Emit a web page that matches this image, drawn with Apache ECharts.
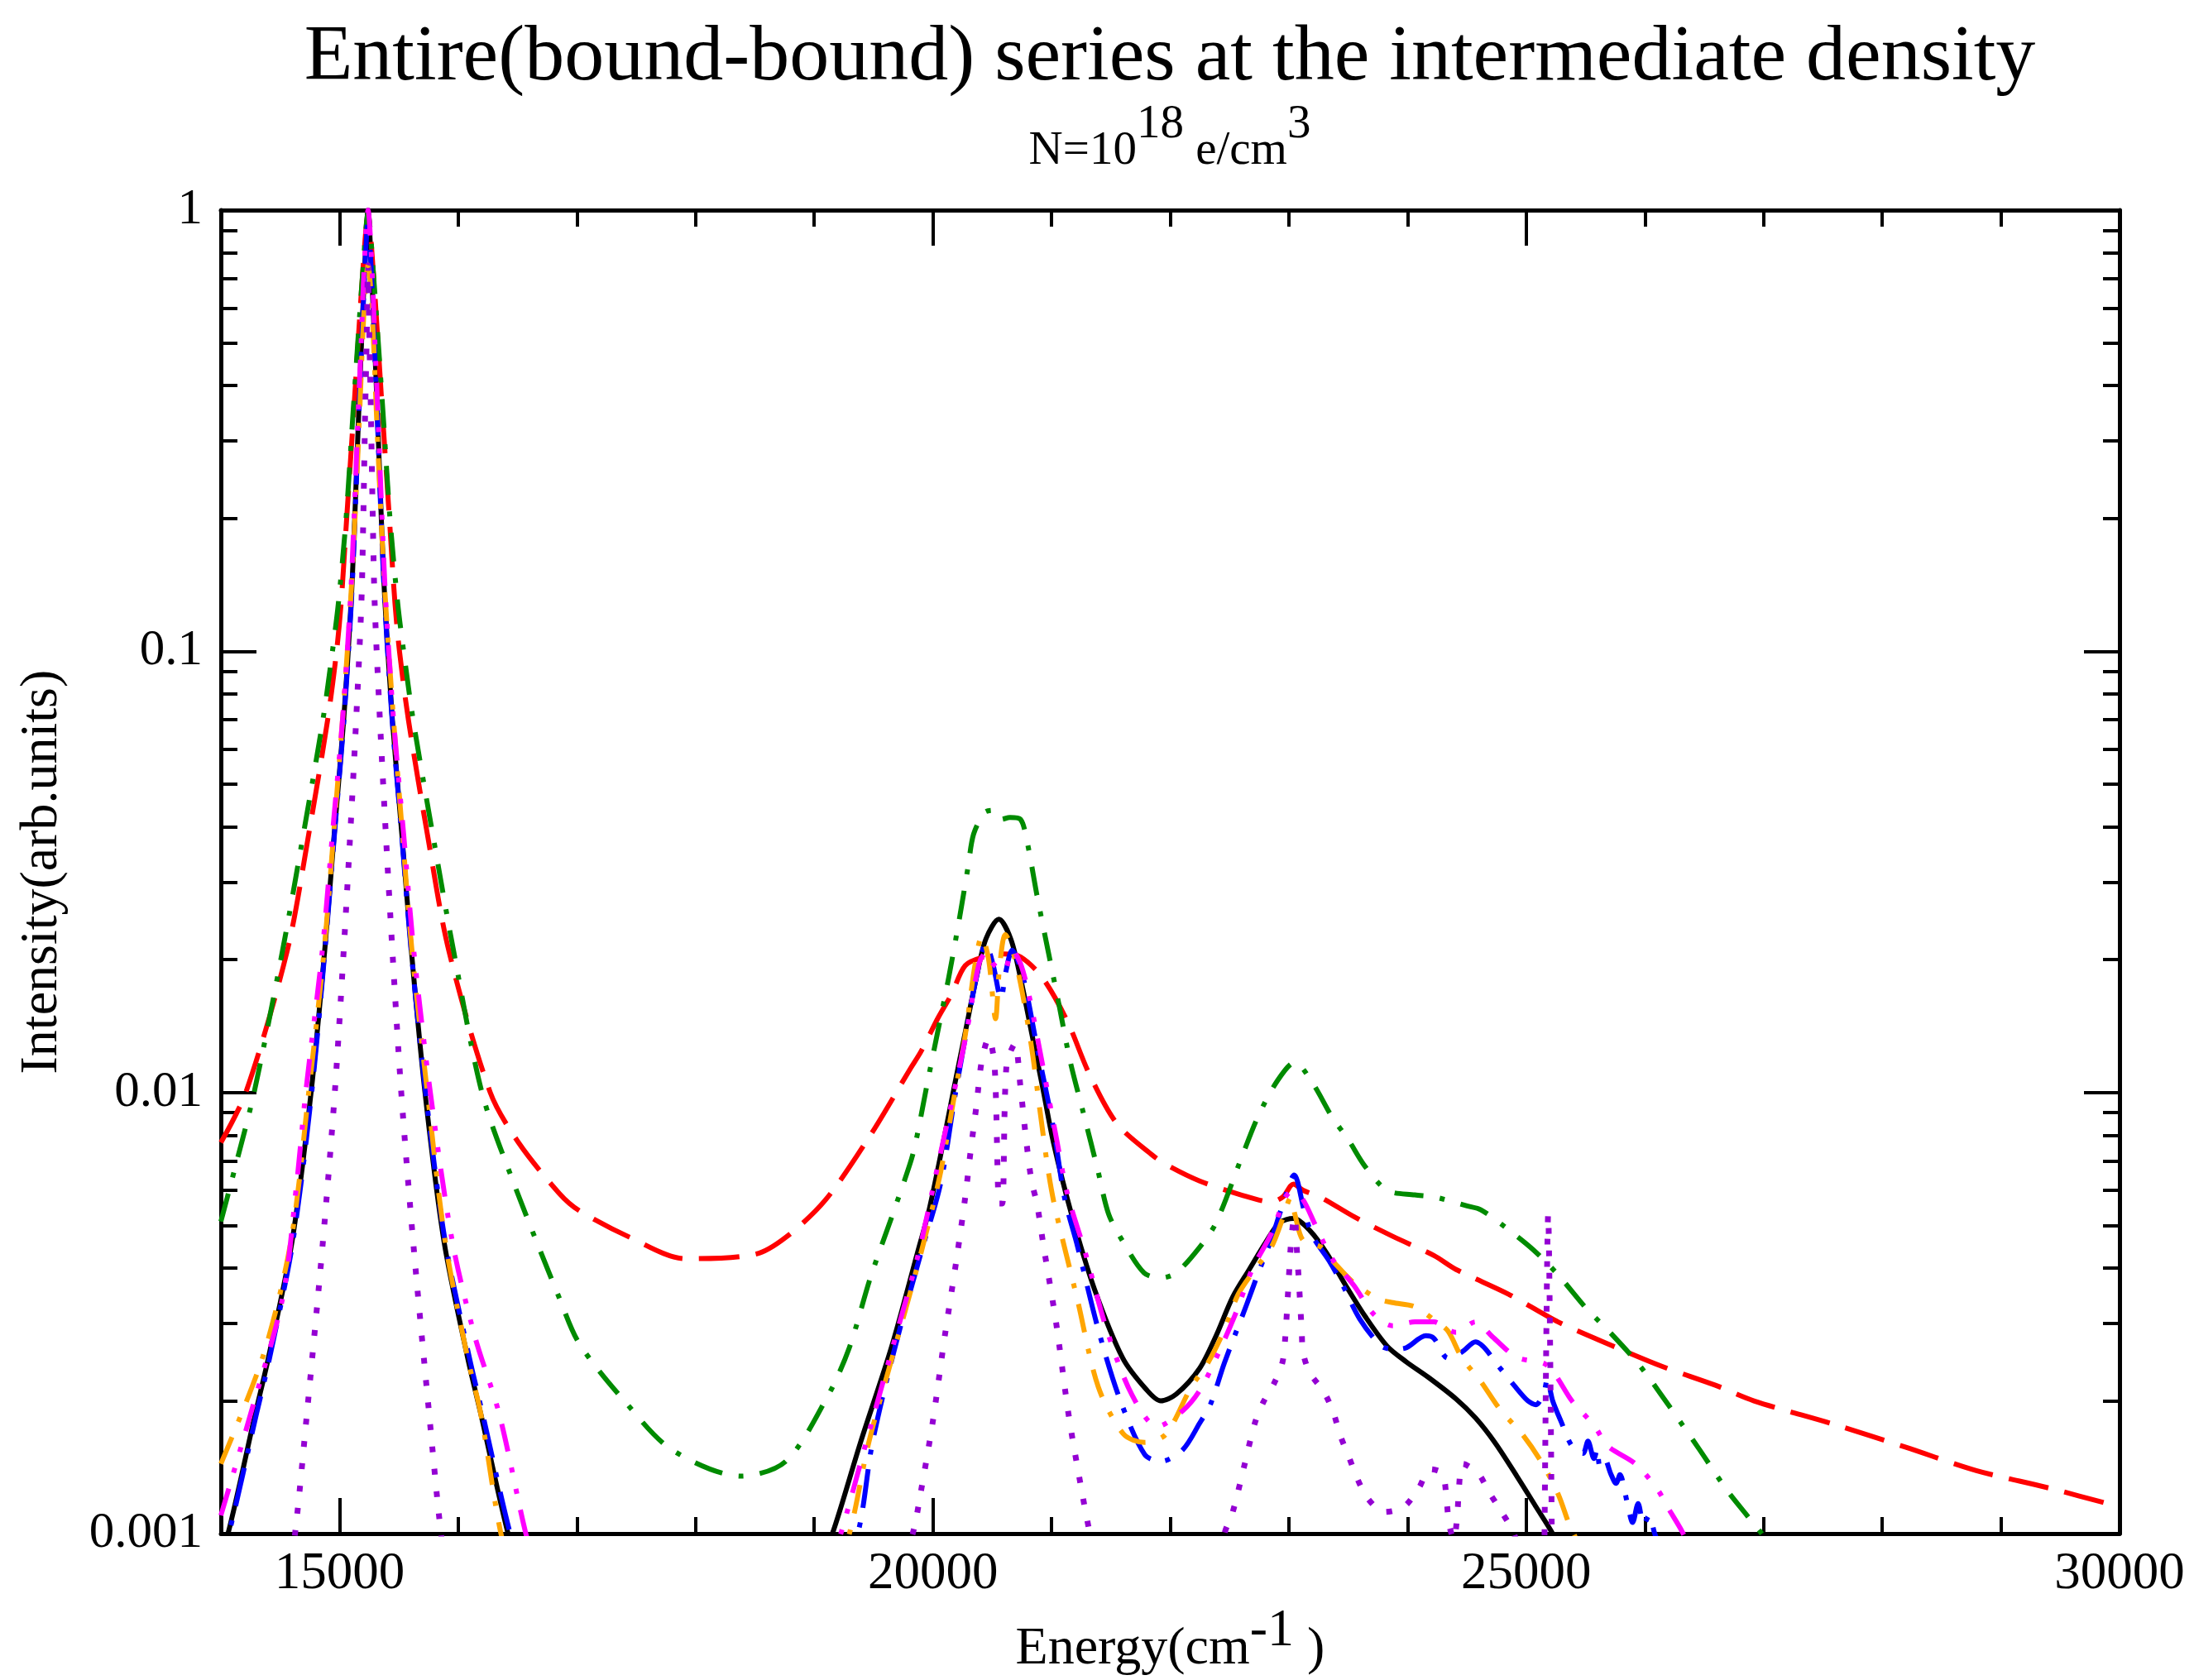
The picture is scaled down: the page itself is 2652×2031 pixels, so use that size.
<!DOCTYPE html>
<html><head><meta charset="utf-8">
<script src="https://cdn.jsdelivr.net/npm/echarts@6/dist/echarts.min.js"></script>
<style>html,body{margin:0;padding:0;background:#fff}#c{width:2652px;height:2031px}</style>
</head><body><div id="c"></div>
<script>
// ---- tick values / labels ----
const xMajorTicks = [15000, 20000, 25000, 30000];
const xMinorTicks = [16000, 17000, 18000, 19000, 21000, 22000, 23000, 24000, 26000, 27000, 28000, 29000];
const yTickLabels = ['0.001', '0.01', '0.1', '1'];
const yMinorTicks = [0.002,0.003,0.004,0.005,0.006,0.007,0.008,0.009,
                     0.02,0.03,0.04,0.05,0.06,0.07,0.08,0.09,
                     0.2,0.3,0.4,0.5,0.6,0.7,0.8,0.9];

// ---- series data (null = gap, curve below 0.001) ----
const blackX = [13940,14060,14290,14400,14600,14760,14875,14955,15035,15097,15128,15162,15185,15210,15240,15270,15295,15318,15352,15383,15445,15525,15605,15720,15880,16080,16190,16420,16540,17800,
  19000,19153,19390,19650,19870,19971,20087,20180,20273,20366,20447,20556,20656,20738,20831,20924,21016,21168,21359,21600,21800,21920,22050,22248,22387,22527,22666,22806,22922,23038,23178,23317,23480,23642,23828,23991,24177,24409,24572,24735,24921,25083,25223,25350];
const blackY = [0.0008,0.001,0.00187,0.0025,0.0046,0.01,0.021,0.0385,0.07,0.1285,0.2,0.351,0.5,0.72,1.0,0.72,0.5,0.351,0.2,0.1285,0.07,0.0385,0.021,0.01,0.0046,0.0025,0.00187,0.001,0.0008,null,
  0.0008,0.001,0.00161,0.00264,0.00433,0.00546,0.0077,0.0103,0.0137,0.0182,0.0223,0.0247,0.0223,0.0182,0.0137,0.0103,0.0077,0.0053,0.0036,0.0025,0.00212,0.002,0.00207,0.00237,0.00281,0.00344,0.00397,0.00458,0.00507,0.00518,0.00486,0.00433,0.00365,0.00311,0.00266,0.00245,0.00226,0.00202,0.00183,0.00161,0.00135,0.00115,0.001,0.00085];

const redX = [14000,14210,14560,14740,14900,14975,15013,15060,15120,15195,15240,15285,15360,15420,15467,15505,15580,15740,15920,16270,16508,16853,17019,17443,17914,18504,18762,19093,19473,19808,19901,20040,20157,20273,20435,20600,20738,20924,21133,21319,21551,21853,21993,22248,22597,22852,22950,23038,23120,23271,23549,23875,24223,24409,24851,25269,25734,26152,26594,26919,27593,28200,28793,29400,30000];
const redY = [0.0077,0.01,0.021,0.0385,0.07,0.1,0.1285,0.2,0.351,0.72,0.97,0.72,0.351,0.2,0.1285,0.1,0.07,0.0385,0.021,0.01,0.0077,0.0059,0.0054,0.0047,0.0042,0.0043,0.0047,0.0057,0.008,0.0113,0.0124,0.0147,0.0167,0.0194,0.0203,0.0206,0.0203,0.0182,0.0145,0.011,0.0085,0.0072,0.0068,0.0063,0.00586,0.00565,0.0058,0.0062,0.006,0.00578,0.00523,0.00472,0.00427,0.00397,0.00349,0.00302,0.00266,0.00239,0.00217,0.002,0.00177,0.00157,0.00139,0.00127,0.00115];

const greenX = [14000,14116,14280,14520,14695,14860,14940,14990,15055,15115,15195,15240,15285,15365,15425,15490,15540,15620,15785,15960,16200,16461,16856,17019,17400,17800,18386,18762,19118,19296,19473,19651,19808,19855,19947,20040,20133,20226,20296,20343,20435,20505,20575,20650,20738,20796,20877,20970,21063,21156,21272,21388,21481,21600,21780,21920,22050,22248,22387,22597,22736,22900,23050,23200,23364,23503,23642,23828,24061,24223,24502,24618,24828,25060,25269,25502,25711,25943,26129,26454,26687,26861,26985,27100];
const greenY = [0.0051,0.0067,0.01,0.021,0.0385,0.07,0.1,0.1285,0.2,0.351,0.72,0.98,0.72,0.351,0.2,0.1285,0.1,0.07,0.0385,0.021,0.01,0.0063,0.0034,0.0027,0.002,0.00155,0.00135,0.00146,0.00206,0.00264,0.0038,0.0052,0.0069,0.0077,0.0103,0.0137,0.0182,0.025,0.0324,0.0385,0.0431,0.0436,0.0416,0.042,0.0416,0.0368,0.028,0.021,0.0158,0.0118,0.0089,0.0067,0.0053,0.0046,0.0039,0.0038,0.0039,0.00446,0.00507,0.00707,0.00877,0.0106,0.0117,0.0105,0.0088,0.0078,0.0068,0.006,0.00586,0.0058,0.00553,0.00542,0.00494,0.0044,0.00386,0.00325,0.00285,0.00243,0.00208,0.00156,0.00126,0.0011,0.001,0.0009];

const blueX = [13950,14067,14300,14410,14607,14765,14877,14957,15037,15099,15130,15164,15187,15212,15240,15268,15293,15316,15350,15381,15443,15523,15603,15725,15890,16095,16205,16438,16560,17800,
  19200,19367,19491,19680,19900,20064,20180,20273,20366,20447,20505,20575,20610,20668,20761,20877,21016,21109,21217,21394,21572,21786,21928,22106,22248,22341,22457,22643,22736,22852,22945,23045,23131,23201,23340,23456,23596,23782,23900,23991,24154,24223,24340,24456,24572,24781,24897,25014,25083,25153,25176,25223,25292,25385,25478,25520,25571,25600,25618,25660,25711,25757,25790,25850,25897,25943,25990,26036,26083,26150];
const blueY = [0.0008,0.001,0.00187,0.0025,0.0046,0.01,0.021,0.0385,0.07,0.1285,0.2,0.351,0.5,0.72,0.95,0.72,0.5,0.351,0.2,0.1285,0.07,0.0385,0.021,0.01,0.0046,0.0025,0.00187,0.001,0.0008,null,
  0.0008,0.001,0.00161,0.00264,0.00433,0.0062,0.0096,0.0133,0.0182,0.0217,0.0196,0.0163,0.0185,0.021,0.0182,0.0127,0.0083,0.00578,0.0045,0.0029,0.00203,0.00151,0.00146,0.00155,0.00178,0.00197,0.00244,0.0033,0.00386,0.00465,0.00553,0.0065,0.00537,0.00472,0.00415,0.00365,0.00307,0.00266,0.00262,0.00264,0.00281,0.00277,0.0025,0.00258,0.00272,0.00237,0.00217,0.002,0.00196,0.00211,0.00224,0.002,0.0018,0.00158,0.00152,0.00162,0.00148,0.00156,0.00143,0.00148,0.00137,0.0013,0.00136,0.00118,0.00106,0.00117,0.00105,0.0011,0.001,0.0009];

const orangeX = [14000,14356,14590,14740,14870,14950,15025,15092,15130,15170,15207,15240,15273,15310,15350,15388,15455,15530,15610,15740,15890,16080,16190,16360,16480,17800,
  19150,19296,19460,19680,19900,20060,20180,20273,20354,20412,20470,20528,20560,20610,20660,20738,20831,20900,20970,21028,21217,21394,21608,21786,21963,22177,22318,22457,22573,22713,22852,22945,23015,23050,23120,23271,23387,23549,23759,23875,24061,24224,24340,24456,24619,24781,24967,25130,25269,25362,25400,25480];
const orangeY = [0.00144,0.00253,0.0046,0.01,0.021,0.0385,0.07,0.1285,0.2,0.351,0.6,0.75,0.6,0.351,0.2,0.1285,0.07,0.0385,0.021,0.01,0.0046,0.0025,0.00187,0.001,0.0008,null,
  0.0008,0.001,0.00161,0.00264,0.00433,0.0065,0.0098,0.0135,0.0194,0.0226,0.02,0.0147,0.019,0.0228,0.0215,0.0177,0.0127,0.0092,0.0067,0.0055,0.0034,0.00215,0.00168,0.00161,0.00168,0.00215,0.00244,0.0029,0.00349,0.00397,0.00446,0.00515,0.00577,0.0053,0.00462,0.00446,0.0041,0.0037,0.0034,0.00334,0.00327,0.00305,0.00288,0.00251,0.00221,0.00191,0.00168,0.00145,0.00123,0.00105,0.001,0.0009];

const magentaX = [14000,14251,14520,14640,14715,14855,14940,15025,15090,15122,15158,15182,15205,15240,15275,15298,15322,15358,15390,15455,15540,15625,15765,15950,16140,16345,16570,16680,17800,
  19100,19224,19438,19660,19880,20040,20170,20280,20389,20452,20505,20598,20668,20738,20808,20900,21040,21133,21288,21465,21679,21892,22106,22248,22387,22550,22690,22852,22968,23015,23108,23224,23364,23549,23712,23875,24061,24224,24340,24409,24572,24712,24921,25153,25246,25385,25571,25688,25920,26106,26199,26315,26400];
const magentaY = [0.0011,0.00187,0.00342,0.00627,0.01,0.021,0.0385,0.07,0.1285,0.2,0.351,0.5,0.72,1.0,0.72,0.5,0.351,0.2,0.1285,0.07,0.0385,0.021,0.01,0.0046,0.0028,0.00187,0.001,0.0008,null,
  0.0008,0.001,0.00161,0.00264,0.00433,0.0068,0.0098,0.0135,0.0196,0.0208,0.0196,0.0188,0.021,0.0196,0.0167,0.0125,0.0079,0.0059,0.0043,0.0029,0.00206,0.00175,0.0019,0.00211,0.0025,0.00315,0.00397,0.00479,0.00577,0.00594,0.00577,0.005,0.0042,0.00365,0.00315,0.00296,0.00302,0.00302,0.0029,0.00286,0.00302,0.0028,0.00251,0.00243,0.00229,0.002,0.00176,0.00158,0.00144,0.00126,0.00114,0.00101,0.0009];

const violetX = [14540,14625,14725,14860,14960,15035,15090,15140,15184,15200,15216,15228,15240,15252,15264,15280,15296,15340,15390,15445,15520,15620,15755,15855,15940,17800,
  19700,19830,19900,20000,20100,20200,20273,20319,20366,20412,20470,20520,20560,20585,20620,20691,20738,20784,20831,20877,20932,21039,21145,21252,21323,21400,21900,
  22400,22457,22527,22620,22713,22782,22875,22945,22968,22992,23015,23035,23050,23065,23085,23108,23120,23178,23294,23375,23433,23503,23573,23666,23805,23968,24096,24189,24293,24328,24350,24390,24421,24433,24468,24595,24688,24793,24897,25000,25080,
  25150,25185,25220];
const violetY = [0.0007,0.001,0.00187,0.0046,0.01,0.021,0.0385,0.07,0.1285,0.2,0.351,0.5,0.75,0.5,0.351,0.2,0.1285,0.07,0.0385,0.021,0.01,0.0046,0.00187,0.001,0.0007,null,
  0.0008,0.001,0.00125,0.0018,0.0028,0.0042,0.0058,0.0074,0.0093,0.0118,0.0133,0.0115,0.0056,0.0056,0.0115,0.0129,0.0103,0.0079,0.0063,0.0056,0.0045,0.003,0.00185,0.00126,0.001,0.0008,null,
  0.0008,0.001,0.00112,0.00141,0.00178,0.00198,0.00219,0.00244,0.00275,0.00349,0.00446,0.00505,0.00523,0.0045,0.0037,0.00289,0.00257,0.00231,0.0021,0.00188,0.00167,0.0015,0.00134,0.0012,0.00112,0.00115,0.00127,0.0014,0.00137,0.0012,0.00105,0.00097,0.00112,0.00127,0.00144,0.00137,0.00124,0.00112,0.001,0.0008,null,
  0.0007,0.0053,0.0007];

// ---- build ----
const FONT = 'Liberation Serif';
function pairs(xs, ys) { return xs.map((x, i) => [x, ys[i] === null ? '-' : ys[i]]); }
const seriesDefs = [
  {name: 'black',   x: blackX,   y: blackY,   color: '#000000', width: 6, dash: 'solid'},
  {name: 'red',     x: redX,     y: redY,     color: '#ff0000', width: 6, dash: [49, 20]},
  {name: 'green',   x: greenX,   y: greenY,   color: '#008b00', width: 6, dash: [35, 20, 6, 20]},
  {name: 'blue',    x: blueX,    y: blueY,    color: '#0000ff', width: 6, dash: [47, 18, 6, 18]},
  {name: 'orange',  x: orangeX,  y: orangeY,  color: '#ffa500', width: 6, dash: [35, 20, 6, 20]},
  {name: 'magenta', x: magentaX, y: magentaY, color: '#ff00ff', width: 6, dash: [34, 20, 6, 20, 6, 20]},
  {name: 'violet',  x: violetX,  y: violetY,  color: '#9400d3', width: 7, dash: [7, 20]}
];
const series = seriesDefs.map(d => ({
  name: d.name, type: 'line', xAxisIndex: 0, yAxisIndex: 0,
  data: pairs(d.x, d.y), showSymbol: false, symbol: 'none',
  smooth: 0.3, connectNulls: false, clip: true, silent: true,
  lineStyle: {color: d.color, width: d.width, type: d.dash, cap: 'butt', join: 'round'}
}));

const tickStyle = {color: '#000', width: 4};
const lineStyle = {color: '#000', width: 5};
const yMinorLog = yMinorTicks.map(v => Math.log10(v));

const option = {
  animation: false,
  backgroundColor: '#ffffff',
  title: [
    {text: 'Entire(bound-bound) series at the intermediate density', left: 1409, top: 18, textAlign: 'center',
     textStyle: {fontFamily: FONT, fontSize: 96, fontWeight: 'normal', color: '#000'}},
    {text: '{b|N=10}{s|18}{b| e/cm}{s|3}', left: 1409, top: 128, textAlign: 'center',
     textStyle: {fontFamily: FONT, fontSize: 57, fontWeight: 'normal', color: '#000',
       rich: {b: {fontFamily: FONT, fontSize: 57, lineHeight: 100, color: '#000'},
              s: {fontFamily: FONT, fontSize: 57, height: 36, verticalAlign: 'top', color: '#000'}}}}
  ],
  grid: {left: 267, right: 90, top: 254, bottom: 174, containLabel: false},
  xAxis: [
    {type: 'value', min: 14000, max: 30000, position: 'bottom',
     axisLine: {show: true, onZero: false, lineStyle: lineStyle},
     axisTick: {show: true, inside: true, length: 43, customValues: xMajorTicks, lineStyle: tickStyle},
     axisLabel: {show: true, customValues: xMajorTicks, margin: 18, fontFamily: FONT, fontSize: 63, color: '#000',
       formatter: v => String(v)},
     splitLine: {show: false},
     name: '{b|Energy(cm}{s|-1}{b| )}', nameLocation: 'middle', nameGap: 73,
     nameTextStyle: {fontFamily: FONT, fontSize: 64, color: '#000',
       rich: {b: {fontFamily: FONT, fontSize: 64, lineHeight: 86, color: '#000'},
              s: {fontFamily: FONT, fontSize: 64, height: 42, verticalAlign: 'top', color: '#000'}}}},
    {type: 'value', min: 14000, max: 30000, position: 'bottom',
     axisLine: {show: false, onZero: false},
     axisTick: {show: true, inside: true, length: 20, customValues: xMinorTicks, lineStyle: tickStyle},
     axisLabel: {show: false}, splitLine: {show: false}},
    {type: 'value', min: 14000, max: 30000, position: 'top',
     axisLine: {show: true, onZero: false, lineStyle: lineStyle},
     axisTick: {show: true, inside: true, length: 43, customValues: xMajorTicks, lineStyle: tickStyle},
     axisLabel: {show: false}, splitLine: {show: false}},
    {type: 'value', min: 14000, max: 30000, position: 'top',
     axisLine: {show: false, onZero: false},
     axisTick: {show: true, inside: true, length: 20, customValues: xMinorTicks, lineStyle: tickStyle},
     axisLabel: {show: false}, splitLine: {show: false}}
  ],
  yAxis: [
    {type: 'log', logBase: 10, min: 0.001, max: 1, position: 'left',
     axisLine: {show: true, onZero: false, lineStyle: lineStyle},
     axisTick: {show: true, inside: true, length: 43, lineStyle: tickStyle},
     axisLabel: {show: true, margin: 22, fontFamily: FONT, fontSize: 61, color: '#000',
       formatter: v => yTickLabels[Math.round(Math.log10(v)) + 3]},
     splitLine: {show: false},
     name: 'Intensity(arb.units)', nameLocation: 'middle', nameGap: 184, nameRotate: 90,
     nameTextStyle: {fontFamily: FONT, fontSize: 64, color: '#000'}},
    {type: 'value', min: -3, max: 0, position: 'left',
     axisLine: {show: false, onZero: false},
     axisTick: {show: true, inside: true, length: 20, customValues: yMinorLog, lineStyle: tickStyle},
     axisLabel: {show: false}, splitLine: {show: false}},
    {type: 'log', logBase: 10, min: 0.001, max: 1, position: 'right',
     axisLine: {show: true, onZero: false, lineStyle: lineStyle},
     axisTick: {show: true, inside: true, length: 43, lineStyle: tickStyle},
     axisLabel: {show: false}, splitLine: {show: false}},
    {type: 'value', min: -3, max: 0, position: 'right',
     axisLine: {show: false, onZero: false},
     axisTick: {show: true, inside: true, length: 20, customValues: yMinorLog, lineStyle: tickStyle},
     axisLabel: {show: false}, splitLine: {show: false}}
  ],
  series: series
};
const chart = echarts.init(document.getElementById('c'), null, {renderer: 'canvas', width: 2652, height: 2031});
chart.setOption(option);
</script></body></html>
